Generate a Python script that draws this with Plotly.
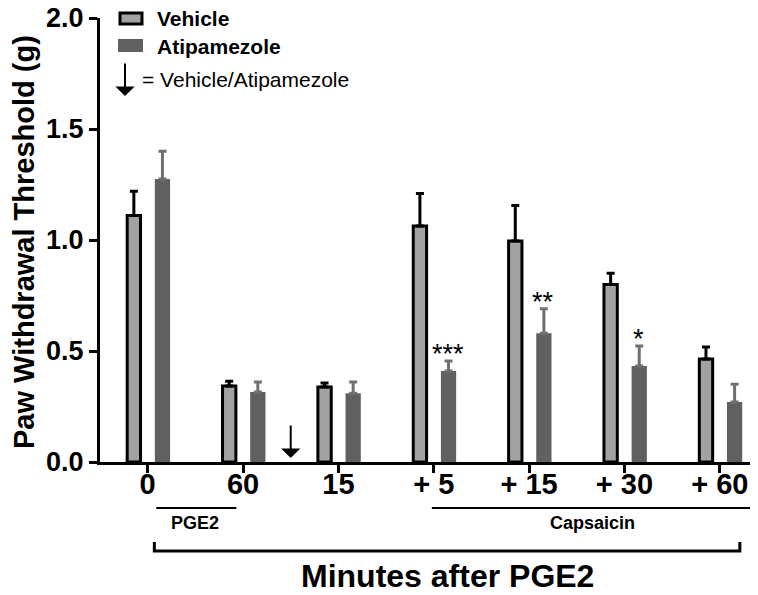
import plotly.graph_objects as go

categories = ["0", "60", "15", "+ 5", "+ 15", "+ 30", "+ 60"]
vehicle = [1.11, 0.342, 0.338, 1.063, 0.995, 0.80, 0.464]
vehicle_err = [0.11, 0.022, 0.018, 0.147, 0.16, 0.05, 0.054]
atipamezole = [1.275, 0.315, 0.31, 0.41, 0.58, 0.432, 0.27]
atipamezole_err = [0.125, 0.045, 0.05, 0.045, 0.11, 0.09, 0.08]
significance = ["", "", "", "***", "**", "*", ""]
y_ticks = [0, 0.5, 1.0, 1.5, 2.0]
y_ticktext = ["0.0", "0.5", "1.0", "1.5", "2.0"]

FONT = "Liberation Sans, Arial, sans-serif"
VEH_FILL = "#a2a2a2"
ATI_FILL = "#606060"
ATI_ERR = "#707070"

# page offset (default body margin) -> figure is 8 px smaller each way
W, H = 750, 587
PL, PR, PT, PB = 100, 757, 18, 462   # plot area in screenshot pixels


def px(X):
    return (X - PL) / (PR - PL)


def py(Y):
    return (PB - Y) / (PB - PT)


fig = go.Figure()
fig.add_trace(go.Bar(
    x=categories, y=vehicle, name="Vehicle",
    offset=-0.215, width=0.14,
    marker=dict(color=VEH_FILL, line=dict(color="black", width=3)),
    error_y=dict(type="data", symmetric=False, array=vehicle_err,
                 arrayminus=[0] * len(vehicle_err), color="black",
                 thickness=3, width=4),
))
fig.add_trace(go.Bar(
    x=categories, y=atipamezole, name="Atipamezole",
    offset=0.075, width=0.16,
    marker=dict(color=ATI_FILL, line=dict(color=ATI_FILL, width=0)),
    error_y=dict(type="data", symmetric=False, array=atipamezole_err,
                 arrayminus=[0] * len(atipamezole_err), color=ATI_ERR,
                 thickness=3, width=4),
))

annotations = []
for i, s in enumerate(significance):
    if s:
        annotations.append(dict(
            x=categories[i], y=atipamezole[i] + atipamezole_err[i],
            xref="x", yref="y", text=s, showarrow=False,
            xshift=14, xanchor="center", yanchor="bottom", yshift=-10,
            font=dict(family=FONT, size=27, color="black"),
        ))

# treatment arrow between 60 and 15
annotations.append(dict(
    x=1.5, y=0.018, xref="x", yref="y", text="", showarrow=True,
    ax=0, ay=-34, arrowhead=1, arrowsize=1.6, arrowwidth=2, arrowcolor="black",
))

shapes = []
# manual legend
shapes.append(dict(type="rect", xref="paper", yref="paper",
                   x0=px(120), x1=px(142), y0=py(24), y1=py(13),
                   fillcolor=VEH_FILL, line=dict(color="black", width=3)))
shapes.append(dict(type="rect", xref="paper", yref="paper",
                   x0=px(118), x1=px(143), y0=py(52), y1=py(39),
                   fillcolor=ATI_FILL, line=dict(width=0)))
annotations.append(dict(x=px(155), y=py(18), xref="paper", yref="paper",
                        text="<b>Vehicle</b>", showarrow=False, xanchor="left", yanchor="middle",
                        font=dict(family=FONT, size=21, color="black")))
annotations.append(dict(x=px(155), y=py(46), xref="paper", yref="paper",
                        text="<b>Atipamezole</b>", showarrow=False, xanchor="left", yanchor="middle",
                        font=dict(family=FONT, size=21, color="black")))
annotations.append(dict(x=px(125), y=py(96), xref="paper", yref="paper",
                        text="", showarrow=True, ax=0, ay=-34, arrowhead=1, arrowsize=1.6,
                        arrowwidth=2, arrowcolor="black"))
annotations.append(dict(x=px(140), y=py(79), xref="paper", yref="paper",
                        text="= Vehicle/Atipamezole", showarrow=False, xanchor="left", yanchor="middle",
                        font=dict(family=FONT, size=21, color="black")))

# group lines beneath axis
shapes.append(dict(type="line", xref="x", yref="paper", x0=0.09, x1=0.93,
                   y0=py(508), y1=py(508), line=dict(color="black", width=2)))
shapes.append(dict(type="line", xref="x", yref="paper", x0=2.98, x1=6.34,
                   y0=py(508), y1=py(508), line=dict(color="black", width=2)))
shapes.append(dict(type="path", xref="x", yref="paper",
                   path=f"M 0.07 {py(542)} L 0.07 {py(551)} L 6.21 {py(551)} L 6.21 {py(542)}",
                   line=dict(color="black", width=3)))
annotations.append(dict(x=0.5, y=py(523), xref="x", yref="paper", text="<b>PGE2</b>",
                        showarrow=False, xanchor="center", yanchor="middle",
                        font=dict(family=FONT, size=18, color="black")))
annotations.append(dict(x=4.66, y=py(523), xref="x", yref="paper", text="<b>Capsaicin</b>",
                        showarrow=False, xanchor="center", yanchor="middle",
                        font=dict(family=FONT, size=18, color="black")))
annotations.append(dict(x=px(447), y=py(576), xref="paper", yref="paper",
                        text="<b>Minutes after PGE2</b>", showarrow=False,
                        xanchor="center", yanchor="middle",
                        font=dict(family=FONT, size=32, color="black")))
annotations.append(dict(x=px(24), y=py(242), xref="paper", yref="paper",
                        text="<b>Paw Withdrawal Threshold (g)</b>", showarrow=False, textangle=-90,
                        xanchor="center", yanchor="middle",
                        font=dict(family=FONT, size=29, color="black")))

fig.update_layout(
    width=W, height=H,
    margin=dict(l=PL - 8, r=W - (PR - 8), t=PT - 8, b=H - (PB - 8), pad=0),
    paper_bgcolor="white", plot_bgcolor="white",
    showlegend=False, barmode="overlay",
    annotations=annotations, shapes=shapes,
    font=dict(family=FONT, color="black"),
)
fig.update_xaxes(
    type="category", range=[-0.5, 6.39], automargin=False,
    showline=True, linecolor="black", linewidth=3,
    ticks="outside", ticklen=8, tickwidth=3, tickcolor="black",
    showgrid=False, zeroline=False, ticklabelstandoff=-14,
    tickfont=dict(family=FONT, size=29, color="black", weight="bold"),
)
fig.update_yaxes(
    range=[0, 2], tickvals=y_ticks, ticktext=y_ticktext, automargin=False,
    showline=True, linecolor="black", linewidth=3, ticklabeloverflow="allow",
    ticks="outside", ticklen=8, tickwidth=3, tickcolor="black",
    showgrid=False, zeroline=False,
    tickfont=dict(family=FONT, size=27, color="black", weight="bold"),
)

fig.write_html("out.html")
